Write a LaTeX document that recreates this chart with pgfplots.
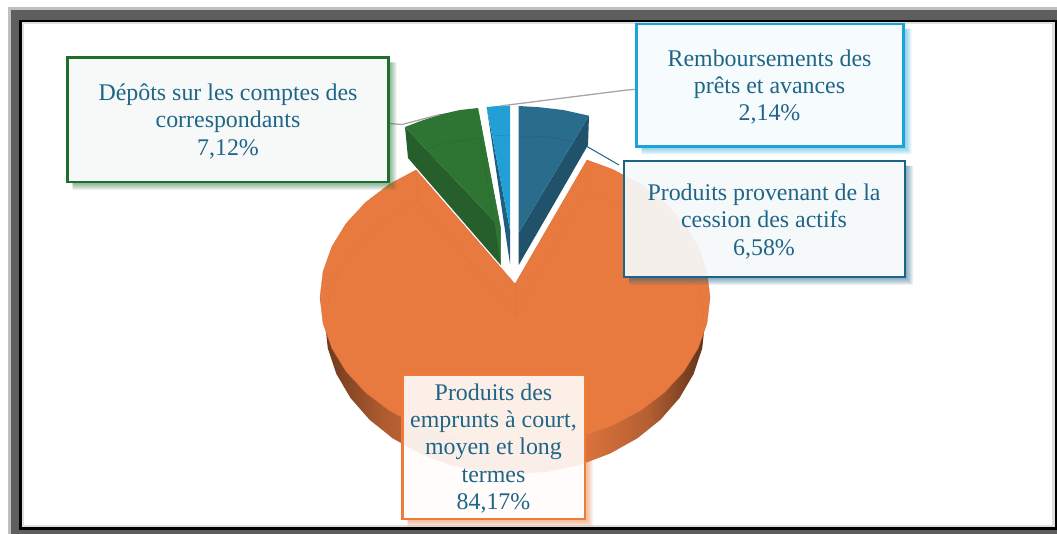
\documentclass[border=0pt]{standalone}
\usepackage{fontspec}
\setmainfont{Liberation Serif}
\usepackage{pgfplots}
\pgfplotsset{compat=1.18}
\definecolor{orangetop}{HTML}{E87A40}
\definecolor{orangeline}{HTML}{D66E38}
\definecolor{greentop}{HTML}{2E7533}
\definecolor{greendark}{HTML}{275F2C}
\definecolor{lbluetop}{HTML}{22A0D5}
\definecolor{lbluedark}{HTML}{1F5E7E}
\definecolor{tealtop}{HTML}{2A6C8C}
\definecolor{tealdark}{HTML}{21526B}
\definecolor{txt}{HTML}{1F6587}
\definecolor{bgreen}{HTML}{1E6E2E}
\definecolor{bteal}{HTML}{1B6487}
\definecolor{blblue}{HTML}{1CA3DA}
\definecolor{borange}{HTML}{EE7B3A}
\pgfdeclarehorizontalshading{pieside}{100bp}{
 color(0bp)=(black!55!orangetop);
 color(25bp)=(black!55!orangetop);
 color(33bp)=(black!25!orangetop);
 color(42bp)=(black!10!orangetop);
 color(50bp)=(black!6!orangetop);
 color(60bp)=(black!8!orangetop);
 color(67bp)=(black!22!orangetop);
 color(75bp)=(black!62!orangetop);
 color(100bp)=(black!62!orangetop)}
% one callout: x0 y0 x1 y1 colour fill-opacity fill text-x text-y
\newcommand{\callout}[9]{%
  \foreach \d in {1,...,8}{%
    \fill[#5,opacity=0.085] (#3,#2+5) -- (#3+\d,#2+5) -- (#3+\d,#4+\d) -- (#1+5,#4+\d) -- (#1+5,#4) -- (#3,#4) -- cycle;
  }%
  \fill[#7,fill opacity=#6] (#1,#2) rectangle (#3,#4);
  \draw[#5,line width=2.8pt] (#1,#2) rectangle (#3,#4);
  \node[align=center,text=txt,inner sep=0pt,font=\fontsize{23.9}{27.4}\selectfont] at (#8,#9) {\calltext};
}
\begin{document}
\begin{tikzpicture}
\useasboundingbox (0,0) rectangle (1057pt,-534pt);
\begin{scope}[x=1pt,y=-1pt]
\fill[white] (0,0) rectangle (1057,534);
\fill[black!25] (8,7) rectangle (1057,534);
\fill[black!63] (11,10) rectangle (1057,534);
\fill[black] (19,20) rectangle (1057,530);
\fill[black!13] (22,22) rectangle (1055,527);
\fill[white] (24,24) rectangle (1052,525);
\end{scope}
\begin{axis}[at={(0pt,0pt)},anchor=north west,width=1057pt,height=534pt,scale only axis,
  hide axis,clip=false,xmin=0,xmax=1057,ymin=0,ymax=534,y dir=reverse,no marks]
% orange: side
\addplot[draw=none,shading=pieside,forget plot] coordinates {
(710,297.5)(705,322)(702.2,348.4)(693.6,374)(679.5,398)(660.5,419.7)(637.2,438.4)(610,453.6)(580,464.9)(548.1,471.7)(515,474)(481.9,471.7)(450,464.9)(420,453.6)(392.8,438.4)(369.5,419.7)(350.5,398)(336.4,374)(327.8,348.4)(325,322)(320,297.5)} --cycle;
% orange: top face (84,17 %)
\addplot[fill=orangetop,draw=orangeline,line width=0.3pt,line join=round,forget plot] coordinates {
(587,160)(612.5,169.3)(640.3,184.1)(664.4,202.4)(683.9,223.5)(698.2,246.9)(707,271.8)(710,297.5)(707,323.2)(698.2,348.1)(683.9,371.5)(664.4,392.6)(640.3,410.9)(612.5,425.7)(581.7,436.6)(548.9,443.3)(515,445.5)(481.1,443.3)(448.3,436.6)(417.5,425.7)(389.7,410.9)(365.6,392.6)(346.1,371.5)(331.8,348.1)(323,323.2)(320,297.5)(323,271.8)(331.8,246.9)(346.1,223.5)(365.6,202.4)(389.7,184.1)(416,170)(515,284)} --cycle;
% orange: faint lower outline seen through
\addplot[draw=orangeline,line width=0.4pt,opacity=0.4,forget plot] coordinates {(326,322)(328.8,297.6)(337.3,274.1)(351.3,252)(370.2,232)(393.5,214.8)(418,202)(515,315)(586,190)(609.5,200.8)(636.5,214.8)(659.8,232)(678.7,252)(692.7,274.1)(701.2,297.6)(704,322)};
\addplot[draw=orangeline,line width=0.4pt,opacity=0.4,forget plot] coordinates {(416,170)(418,202)};
\addplot[draw=orangeline,line width=0.4pt,opacity=0.4,forget plot] coordinates {(587,160)(586,190)};
\addplot[draw=orangeline,line width=0.4pt,opacity=0.4,forget plot] coordinates {(515,284)(515,315)};
% green (7,12 %)
\addplot[fill=greendark,draw=none,forget plot] coordinates {(405,127)(408,158)(500.7,265)(500.7,228)} --cycle;
\addplot[fill=greentop,draw=none,forget plot] coordinates {(405,127)(422,120.5)(440,114.5)(460,110)(478,108)(500.7,228)} --cycle;
\addplot[fill=greentop,draw=none,forget plot] coordinates {(478,108)(500.7,228)(500.7,265)} --cycle;
\addplot[draw=greendark,line width=0.5pt,opacity=0.5,forget plot] coordinates {(408,158)(425,150)(445,143)(480,138)(500.7,265)};
% light blue (2,14 %)
\addplot[fill=lbluedark,draw=none,forget plot] coordinates {(486.7,107)(510,230)(510,264)} --cycle;
\addplot[fill=lbluetop,draw=none,forget plot] coordinates {(486.7,107)(498,106)(510,105.7)(510,230)} --cycle;
\addplot[draw=lbluedark,line width=0.5pt,opacity=0.4,forget plot] coordinates {(495,135.5)(510,136)};
% teal (6,58 %)
\addplot[fill=tealdark,draw=none,forget plot] coordinates {(589,115.7)(588,145)(518.7,265)(518.7,233)} --cycle;
\addplot[fill=tealtop,draw=none,forget plot] coordinates {(518.7,106)(540,107.3)(563.3,110)(589,115.7)(518.7,233)} --cycle;
\addplot[draw=tealdark,line width=0.5pt,opacity=0.5,forget plot] coordinates {(518.7,136)(540,136)(560,139)(573,141.7)};
% leader lines
\addplot[draw=black!35,line width=1.3pt,forget plot] coordinates {(389,123.5)(402,124.5)(440,114.5)};
\addplot[draw=black!35,line width=1.3pt,forget plot] coordinates {(500,106)(627,90)(636,89.3)};
\addplot[draw=bteal,line width=1pt,forget plot] coordinates {(587,146.5)(619,165)};
\end{axis}
\begin{scope}[x=1pt,y=-1pt]
\def\calltext{Dépôts sur les comptes des\\correspondants\\7,12\%}
\callout{67.5}{57.5}{388.5}{182}{bgreen}{0.95}{white!96!bgreen}{228}{121.5}{}
\def\calltext{Remboursements des\\prêts et avances\\2,14\%}
\callout{636.5}{24}{903.5}{146.5}{blblue}{0.95}{white!96!blblue}{769.5}{87}{}
\def\calltext{Produits provenant de la\\cession des actifs\\6,58\%}
\callout{624}{161}{905}{277}{bteal}{0.92}{white!96!bteal}{764}{221.5}{}
\def\calltext{Produits des\\emprunts à court,\\moyen et long\\termes\\84,17\%}
\callout{402.5}{374.5}{585}{519}{borange}{0.9}{white!98!borange}{493.5}{448.5}{}
\end{scope}
\end{tikzpicture}
\end{document}
